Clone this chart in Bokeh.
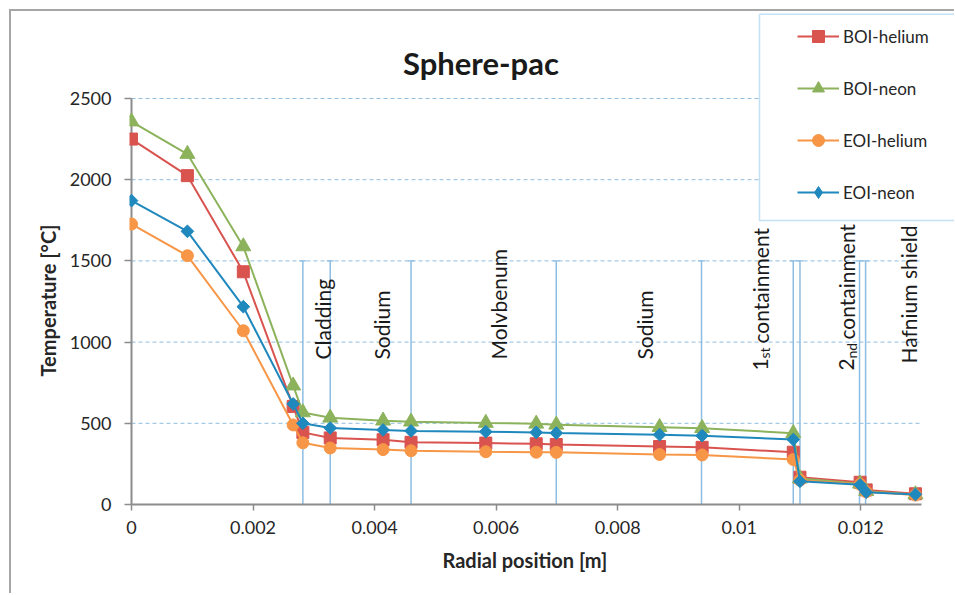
import math
from bokeh.plotting import figure
from bokeh.models import (Range1d, FixedTicker, CustomJSTickFormatter, Label,
                          BoxAnnotation, Legend, LegendItem, Title)
from bokeh.embed import file_html
from bokeh.resources import INLINE

# ---------------- data ----------------
RADIUS = [0, 0.00092, 0.00184, 0.00266, 0.00282, 0.00327, 0.00414, 0.00460,
          0.00583, 0.00666, 0.00699, 0.00869, 0.00939, 0.01089, 0.01100,
          0.01199, 0.01209, 0.01290]
BOI_HELIUM = [2250, 2025, 1433, 604, 444, 410, 399, 383, 378, 374, 369, 357,
              352, 322, 168, 137, 90, 66]
BOI_NEON = [2358, 2158, 1589, 732, 567, 534, 516, 510, 502, 497, 491, 476,
            470, 439, 160, 128, 82, 62]
EOI_HELIUM = [1727, 1532, 1070, 490, 380, 348, 338, 331, 325, 322, 321, 308,
              305, 277, 150, 124, 78, 58]
EOI_NEON = [1871, 1682, 1218, 619, 500, 471, 459, 453, 448, 444, 440, 430,
            424, 400, 143, 121, 76, 62]
SERIES_NAMES = ["BOI-helium", "BOI-neon", "EOI-helium", "EOI-neon"]

LAYER_EDGES = [0.00282, 0.00327, 0.00460, 0.00699, 0.00938, 0.01089, 0.01100,
               0.01198, 0.01208]
LAYER_TOP = 1500
LAYER_NAMES = ["Cladding", "Sodium", "Molvbenum", "Sodium", "Hafnium shield"]
LAYER_LABEL_X = [0.00315, 0.00411, 0.00604, 0.00844, 0.01278]
LAYER_LABEL_Y = [893, 893, 893, 893, 868]
CONTAIN_NUM = ["1", "2"]
CONTAIN_SUF = ["st", "nd"]
CONTAIN_X = [0.01035, 0.011774]
CONTAIN_Y = [825, 825]

X_TICKS = [0, 0.002, 0.004, 0.006, 0.008, 0.010, 0.012]
Y_TICKS = [0, 500, 1000, 1500, 2000, 2500]
X_AXIS_END = 0.013
Y_AXIS_END = 2500
TITLE_TEXT = "Sphere-pac"
TITLE_X = 0.00575
TITLE_Y = 2718

FONT = "Lato"
TXT = "#262626"
AXIS_GREY = "#8c8c8c"
COLORS = ["#d9534f", "#8cb35c", "#f79646", "#1f88bd"]

# ---------------- layout (pixels) ----------------
W, H = 943, 582
FRAME_L, FRAME_B = 118, 87
FRAME_W, FRAME_H = W - FRAME_L, H - FRAME_B
PX_PER_X = 790 / X_AXIS_END
PX_PER_Y = 406 / Y_AXIS_END
x0 = -2 / PX_PER_X
y0 = -2 / PX_PER_Y

p = figure(frame_width=FRAME_W, frame_height=FRAME_H,
           min_border_left=FRAME_L, min_border_right=0,
           min_border_top=0, min_border_bottom=FRAME_B,
           x_range=Range1d(x0, x0 + FRAME_W / PX_PER_X),
           y_range=Range1d(y0, y0 + FRAME_H / PX_PER_Y),
           output_backend="svg", toolbar_location=None)
p.margin = (9, 0, 0, 9)
p.styles = {"border-left": "2px solid #a6a6a6",
            "border-top": "2px solid #a6a6a6"}
p.outline_line_color = None
p.background_fill_color = "white"
p.border_fill_color = "white"

for ax in (p.xaxis[0], p.yaxis[0]):
    ax.axis_line_color = None
    ax.major_tick_line_color = AXIS_GREY
    ax.major_tick_line_width = 1.5
    ax.minor_tick_line_color = None
    ax.major_label_text_font = FONT
    ax.major_label_text_font_size = "18px"
    ax.major_label_text_color = TXT

p.xaxis.ticker = FixedTicker(ticks=X_TICKS)
p.xaxis.formatter = CustomJSTickFormatter(
    code="return String(Math.round(tick*1000)/1000);")
p.xaxis.major_tick_in = 2
p.xaxis.major_tick_out = 4
p.xaxis.major_label_standoff = 10

p.yaxis.ticker = FixedTicker(ticks=Y_TICKS)
p.yaxis.major_tick_in = 2
p.yaxis.major_tick_out = 5
p.yaxis.major_label_standoff = 13

xt = Title(text="Radial position [m]", align="left", offset=313, standoff=18,
           text_font=FONT, text_font_style="bold", text_font_size="20px",
           text_color=TXT)
p.add_layout(xt, "below")
yt = Title(text="Temperature [°C]", align="left", offset=130, standoff=14,
           text_font=FONT, text_font_style="bold", text_font_size="20px",
           text_color=TXT)
p.add_layout(yt, "left")

p.xgrid.visible = False
p.ygrid.visible = False

# legend box (canvas units)
p.add_layout(BoxAnnotation(left=746, right=3000, top=0.75, bottom=207,
                           left_units="canvas", right_units="canvas",
                           top_units="canvas", bottom_units="canvas",
                           fill_color="white", fill_alpha=1,
                           line_color="#3d9bd6", line_width=1.5))

# gridlines
GRID_Y = Y_TICKS[1:]
p.segment(x0=[0] * len(GRID_Y), y0=GRID_Y, x1=[X_AXIS_END] * len(GRID_Y),
          y1=GRID_Y, line_color="#8fbde0", line_dash="4 3", line_width=1)

# layer boundaries
LAYER_COLOR = "#8dbde2"
p.segment(x0=LAYER_EDGES, y0=[0] * len(LAYER_EDGES), x1=LAYER_EDGES,
          y1=[LAYER_TOP] * len(LAYER_EDGES), line_color=LAYER_COLOR,
          line_width=1.5)
p.scatter(LAYER_EDGES, [LAYER_TOP] * len(LAYER_EDGES), marker="dash", size=7,
          line_color=LAYER_COLOR, line_width=1.2)

# axis lines
p.segment(x0=[0, 0], y0=[0, 0], x1=[0, X_AXIS_END], y1=[Y_AXIS_END, 0],
          line_color=AXIS_GREY, line_width=2)

# series
series = [BOI_HELIUM, BOI_NEON, EOI_HELIUM, EOI_NEON]
markers = [("square", 12, 0), ("triangle", 15, 0), ("circle", 12, 0),
           ("square", 9, math.pi / 4)]
items = []
for name, vals, col, (mk, sz, ang) in zip(SERIES_NAMES, series, COLORS, markers):
    lr = p.line(RADIUS, vals, line_color=col, line_width=2)
    sr = p.scatter(RADIUS, vals, marker=mk, size=sz, angle=ang,
                   fill_color=col, line_color=col)
    if ang:
        # legend-only glyph (not drawn on the plot)
        dummy = p.scatter(x=[float("nan")], y=[float("nan")], marker="diamond",
                          size=12, fill_color=col, line_color=col)
        items.append(LegendItem(label=name, renderers=[lr, dummy]))
    else:
        items.append(LegendItem(label=name, renderers=[lr, sr]))

legend = Legend(items=items, location=(656, 287), padding=12, spacing=22,
                glyph_height=30, label_height=30, glyph_width=42,
                label_standoff=4, margin=0)
legend.border_line_alpha = 0
legend.background_fill_alpha = 0
legend.label_text_font = FONT
legend.label_text_font_size = "17px"
legend.label_text_color = TXT
p.add_layout(legend)

# chart title
p.add_layout(Label(x=TITLE_X, y=TITLE_Y, text=TITLE_TEXT, text_align="center",
                   text_baseline="alphabetic", text_font=FONT,
                   text_font_style="bold", text_font_size="31px",
                   text_color="#1a1a1a"))

# layer names
for name, x, y in zip(LAYER_NAMES, LAYER_LABEL_X, LAYER_LABEL_Y):
    p.add_layout(Label(x=x, y=y, text=name, angle=math.pi / 2,
                       text_align="left", text_baseline="alphabetic",
                       text_font=FONT, text_font_size="21px",
                       text_color="#1a1a1a"))
suf_off = [(4, 12), (5, 12)]
main_off = [27, 31]
for num, suf, x, y, (sxo, syo), mo in zip(CONTAIN_NUM, CONTAIN_SUF, CONTAIN_X,
                                         CONTAIN_Y, suf_off, main_off):
    p.add_layout(Label(x=x, y=y, text=num, angle=math.pi / 2,
                       text_align="left", text_baseline="alphabetic",
                       text_font=FONT, text_font_size="21px",
                       text_color="#1a1a1a"))
    p.add_layout(Label(x=x, y=y, text=suf, angle=math.pi / 2,
                       x_offset=sxo, y_offset=syo,
                       text_align="left", text_baseline="alphabetic",
                       text_font=FONT, text_font_size="14px",
                       text_color="#1a1a1a"))
    p.add_layout(Label(x=x, y=y, text="containment", angle=math.pi / 2,
                       y_offset=mo,
                       text_align="left", text_baseline="alphabetic",
                       text_font=FONT, text_font_size="21px",
                       text_color="#1a1a1a"))

open("out.html", "w").write(file_html(p, INLINE))
